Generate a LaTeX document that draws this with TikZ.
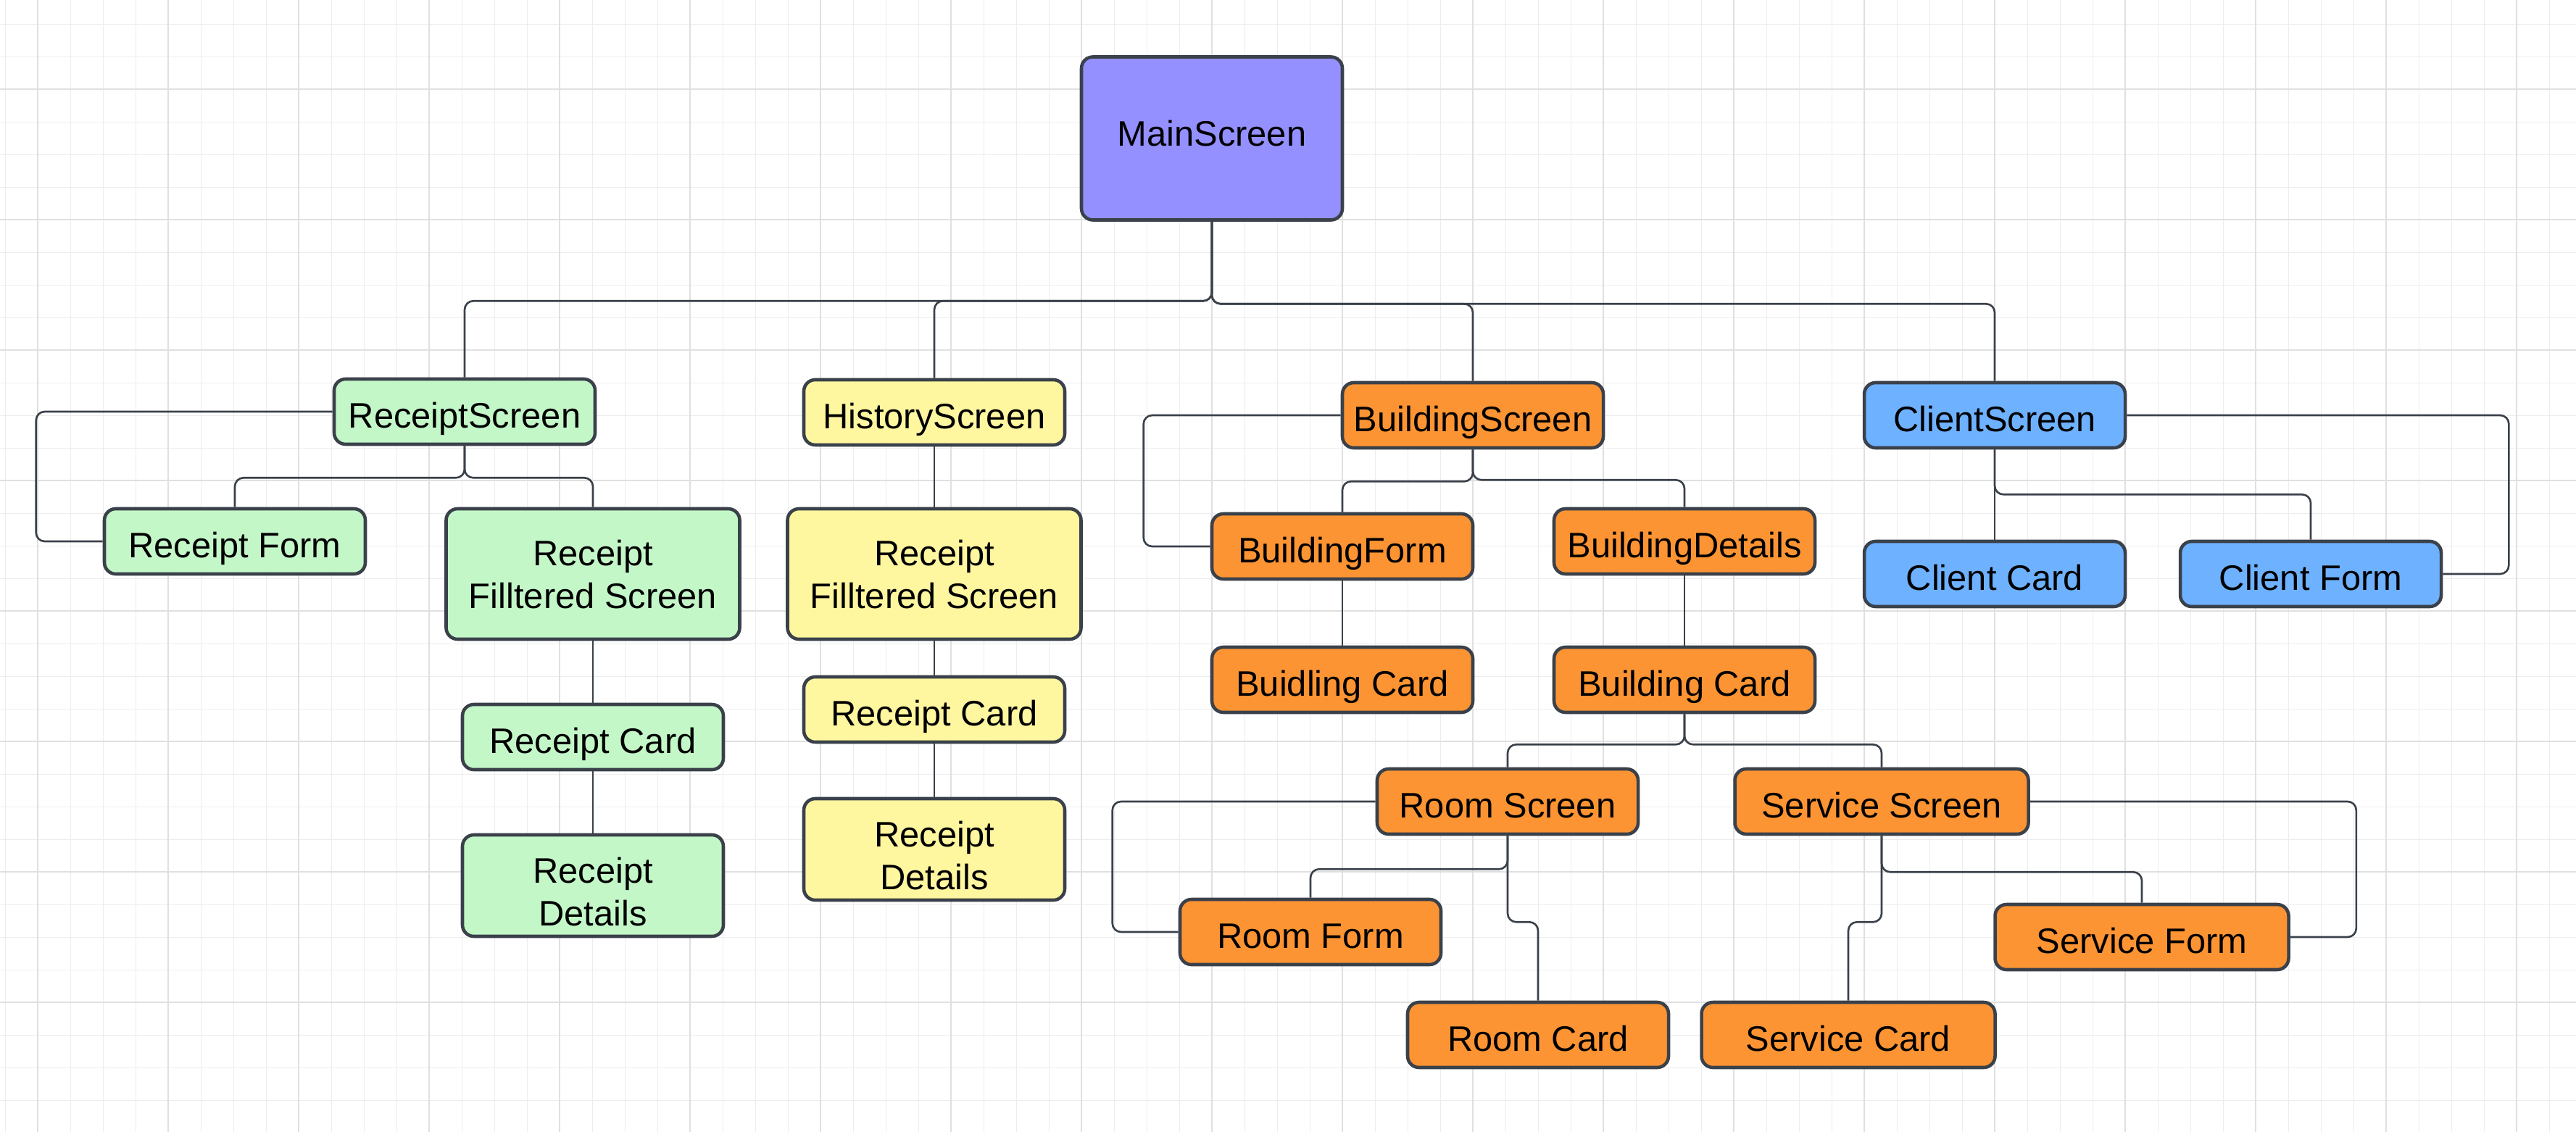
\documentclass[tikz,border=0pt]{standalone}
\usepackage{fontspec}
\setmainfont{Liberation Sans}
\usepackage{tikz}
\usetikzlibrary{positioning}
\definecolor{lineGray}{RGB}{58, 65, 74}
\definecolor{mainViolet}{RGB}{148, 144, 255}

\begin{document}
\begin{tikzpicture}[x=1cm, y=1cm,
    font=\fontsize{13.9}{16.7}\selectfont,
    scr/.style={draw=lineGray, line width=1.3pt, rounded corners=4.5pt,
      minimum width=3.6cm, minimum height=0.9cm, inner sep=0pt, align=center,
      text height=12.6pt, text depth=0pt},
    wide/.style={minimum width=4.05cm},
    filt/.style={minimum height=1.8cm, text height=26.8pt, text depth=0pt},
    det/.style={minimum height=1.4cm, text height=31.4pt, text depth=0pt},
    link/.style={draw=lineGray, line width=0.75pt, rounded corners=3.4pt}]
  % ── Palette ──
  \colorlet{colMain}{mainViolet}
  \definecolor{colRcpt}{RGB}{195, 247, 200}
  \definecolor{colHist}{RGB}{255, 246, 160}
  \definecolor{colBldg}{RGB}{252, 148, 51}
  \definecolor{colClient}{RGB}{110, 177, 255}
  \colorlet{colGrid}{gray!14}
  \colorlet{colGridMaj}{gray!24}

  % ── Fond et grille ──
  \useasboundingbox (0,0) rectangle (35.54,-15.62);
  \fill[white] (0,0) rectangle (35.54,-15.62);
  \foreach \gx in {0,...,78} {
    \draw[colGrid, line width=0.4pt] ({0.073 + 0.45*\gx}, 0) -- ++(0,-15.62);
  }
  \foreach \gy in {0,...,33} {
    \draw[colGrid, line width=0.4pt] (0, {-0.333 - 0.45*\gy}) -- ++(35.54,0);
  }
  \foreach \gx in {0,...,19} {
    \draw[colGridMaj, line width=0.55pt] ({0.523 + 1.8*\gx}, 0) -- ++(0,-15.62);
  }
  \foreach \gy in {0,...,7} {
    \draw[colGridMaj, line width=0.55pt] (0, {-1.233 - 1.8*\gy}) -- ++(35.54,0);
  }

  % ── Ecran principal ──
  \node[scr, fill=colMain, minimum height=2.25cm, text height=10pt, text depth=4pt]
    (main) at (16.72,-1.91) {MainScreen};

  % ── Reçus (vert) ──
  \node[scr, fill=colRcpt] (rcptScreen) at (6.41,-5.68) {ReceiptScreen};
  \node[scr, fill=colRcpt] (rcptForm) at (3.24,-7.47) {Receipt Form};
  \node[scr, wide, filt, fill=colRcpt] (rcptFilt) at (8.18,-7.92) {Receipt\\Filltered Screen};
  \node[scr, fill=colRcpt] (rcptCard) at (8.18,-10.17) {Receipt Card};
  \node[scr, det, fill=colRcpt] (rcptDet) at (8.18,-12.22) {Receipt\\Details};

  % ── Historique (jaune) ──
  \node[scr, fill=colHist] (histScreen) at (12.89,-5.69) {HistoryScreen};
  \node[scr, wide, filt, fill=colHist] (histFilt) at (12.89,-7.92) {Receipt\\Filltered Screen};
  \node[scr, fill=colHist] (histCard) at (12.89,-9.79) {Receipt Card};
  \node[scr, det, fill=colHist] (histDet) at (12.89,-11.72) {Receipt\\Details};

  % ── Bâtiments (orange) ──
  \node[scr, fill=colBldg] (bldgScreen) at (20.32,-5.73) {BuildingScreen};
  \node[scr, fill=colBldg] (bldgForm) at (18.52,-7.54) {BuildingForm};
  \node[scr, fill=colBldg] (bldgDet) at (23.24,-7.47) {BuildingDetails};
  \node[scr, fill=colBldg] (bldgCardA) at (18.52,-9.38) {Buidling Card};
  \node[scr, fill=colBldg] (bldgCardB) at (23.24,-9.38) {Building Card};
  \node[scr, fill=colBldg] (roomScreen) at (20.80,-11.06) {Room Screen};
  \node[scr, wide, fill=colBldg] (servScreen) at (25.96,-11.06) {Service Screen};
  \node[scr, fill=colBldg] (roomForm) at (18.08,-12.86) {Room Form};
  \node[scr, fill=colBldg] (roomCard) at (21.22,-14.28) {Room Card};
  \node[scr, wide, fill=colBldg] (servForm) at (29.55,-12.93) {Service Form};
  \node[scr, wide, fill=colBldg] (servCard) at (25.50,-14.28) {Service Card};

  % ── Clients (bleu) ──
  \node[scr, fill=colClient] (clientScreen) at (27.52,-5.73) {ClientScreen};
  \node[scr, fill=colClient] (clientCard) at (27.52,-7.92) {Client Card};
  \node[scr, fill=colClient] (clientForm) at (31.88,-7.92) {Client Form};

  % ── Liens ──
  \path[link] (main.south) -- ++(0,-1.095) -| (rcptScreen.north);
  \path[link] (main.south) -- ++(0,-1.095) -| (histScreen.north);
  \path[link] (main.south) -- ++(0,-1.135) -| (bldgScreen.north);
  \path[link] (main.south) -- ++(0,-1.135) -| (clientScreen.north);

  \path[link] (rcptScreen.west) -- ++(-4.09,0) |- (rcptForm.west);
  \path[link] (rcptScreen.south) -- ++(0,-0.44) -| (rcptForm.north);
  \path[link] (rcptScreen.south) -- ++(0,-0.44) -| (rcptFilt.north);
  \path[link] (rcptFilt.south) -- (rcptCard.north);
  \path[link] (rcptCard.south) -- (rcptDet.north);

  \path[link] (histScreen.south) -- (histFilt.north);
  \path[link] (histFilt.south) -- (histCard.north);
  \path[link] (histCard.south) -- (histDet.north);

  \path[link] (bldgScreen.west) -- ++(-2.72,0) |- (bldgForm.west);
  \path[link] (bldgScreen.south) -- ++(0,-0.44) -| (bldgForm.north);
  \path[link] (bldgScreen.south) -- ++(0,-0.42) -| (bldgDet.north);
  \path[link] (bldgForm.south) -- (bldgCardA.north);
  \path[link] (bldgDet.south) -- (bldgCardB.north);
  \path[link] (bldgCardB.south) -- ++(0,-0.42) -| (roomScreen.north);
  \path[link] (bldgCardB.south) -- ++(0,-0.42) -| (servScreen.north);

  \path[link] (roomScreen.west) -- ++(-3.63,0) |- (roomForm.west);
  \path[link] (roomScreen.south) -- ++(0,-0.46) -| (roomForm.north);
  \path[link] (roomScreen.south) -- ++(0,-1.19) -| (roomCard.north);
  \path[link] (servScreen.east) -- ++(4.50,0) |- (servForm.east);
  \path[link] (servScreen.south) -- ++(0,-0.50) -| (servForm.north);
  \path[link] (servScreen.south) -- ++(0,-1.19) -| (servCard.north);

  \path[link] (clientScreen.east) -- ++(5.27,0) |- (clientForm.east);
  \path[link] (clientScreen.south) -- (clientCard.north);
  \path[link] (clientScreen.south) -- ++(0,-0.62) -| (clientForm.north);

\end{tikzpicture}
\end{document}
